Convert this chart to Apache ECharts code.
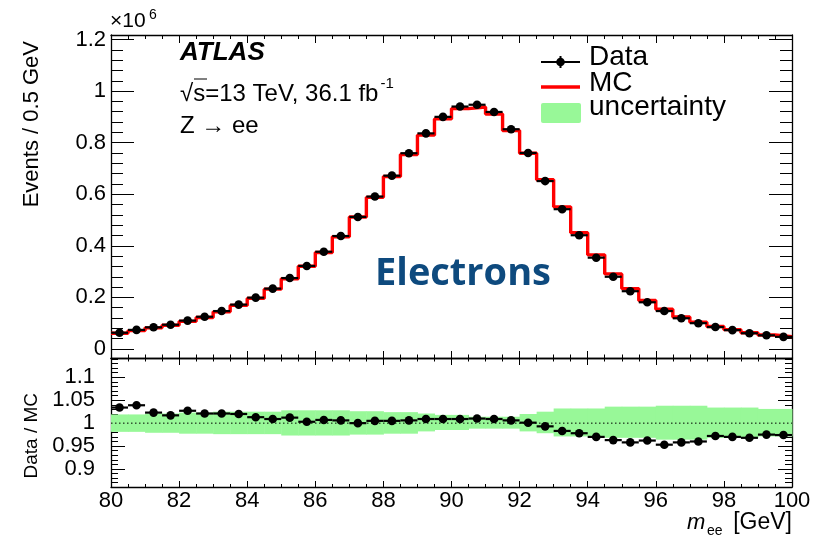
<!DOCTYPE html>
<html>
<head>
<meta charset="utf-8">
<script src="https://cdn.jsdelivr.net/npm/echarts@6/dist/echarts.min.js"></script>
<style>
html,body{margin:0;padding:0;background:#fff;}
#chart{width:818px;height:540px;}
</style>
</head>
<body>
<div id="chart"></div>
<script>
// ---------------- DATA ----------------
const binEdges = [80,80.5,81,81.5,82,82.5,83,83.5,84,84.5,85,85.5,86,86.5,87,87.5,88,88.5,89,89.5,
  90,90.5,91,91.5,92,92.5,93,93.5,94,94.5,95,95.5,96,96.5,97,97.5,98,98.5,99,99.5,100];
// Events (x10^6) per 0.5 GeV
const dataEvents = [0.063,0.074,0.084,0.094,0.110,0.125,0.147,0.172,0.199,0.234,
  0.275,0.322,0.377,0.438,0.512,0.591,0.672,0.759,0.836,0.900,
  0.940,0.947,0.919,0.852,0.760,0.651,0.542,0.441,0.354,0.280,
  0.224,0.181,0.147,0.119,0.100,0.085,0.073,0.061,0.053,0.047];
const mcEvents = [0.061,0.071,0.082,0.092,0.107,0.122,0.144,0.169,0.196,0.232,
  0.272,0.321,0.374,0.435,0.512,0.588,0.669,0.754,0.829,0.892,
  0.932,0.938,0.911,0.847,0.759,0.656,0.551,0.451,0.365,0.291,
  0.234,0.188,0.154,0.124,0.104,0.087,0.075,0.063,0.054,0.048];
const ratioValues = [1.034,1.039,1.023,1.017,1.027,1.021,1.021,1.020,1.013,1.009,
  1.012,1.003,1.007,1.006,1.000,1.005,1.005,1.006,1.009,1.009,
  1.009,1.010,1.009,1.006,1.001,0.993,0.983,0.978,0.970,0.963,
  0.958,0.962,0.953,0.958,0.960,0.972,0.970,0.968,0.975,0.974];
const uncLow = [0.981,0.981,0.979,0.979,0.977,0.977,0.976,0.976,0.976,0.976,
  0.973,0.973,0.973,0.973,0.975,0.975,0.977,0.977,0.982,0.985,
  0.985,0.988,0.988,0.988,0.982,0.978,0.971,0.971,0.971,0.968,
  0.968,0.968,0.964,0.964,0.964,0.968,0.968,0.968,0.971,0.971];
const uncHigh = [1.019,1.019,1.021,1.021,1.023,1.023,1.025,1.025,1.025,1.025,
  1.028,1.028,1.028,1.028,1.026,1.026,1.024,1.024,1.021,1.018,
  1.018,1.014,1.014,1.014,1.020,1.025,1.032,1.032,1.032,1.036,
  1.036,1.036,1.038,1.038,1.038,1.034,1.034,1.034,1.031,1.031];
const yTicksUpper = [0,0.2,0.4,0.6,0.8,1,1.2];
const yTicksUpperMinor = [0.04,0.08,0.12,0.16,0.24,0.28,0.32,0.36,0.44,0.48,0.52,0.56,0.64,0.68,0.72,0.76,
  0.84,0.88,0.92,0.96,1.04,1.08,1.12,1.16];
const yTicksLower = [0.9,0.95,1,1.05,1.1];
const yTicksLowerMinor = [0.87,0.88,0.89,0.91,0.92,0.93,0.94,0.96,0.97,0.98,0.99,1.01,1.02,1.03,1.04,
  1.06,1.07,1.08,1.09,1.11,1.12,1.13,1.14];

// ---------------- BUILD ----------------
const FONT = '"Liberation Sans", Arial, Helvetica, sans-serif';
const nb = dataEvents.length;
const mcLine = [];
const dataPts = [], ratioPts = [], bandPts = [];
for (let i = 0; i < nb; i++) {
  mcLine.push([binEdges[i], mcEvents[i]]);
  dataPts.push([binEdges[i], binEdges[i+1], dataEvents[i]]);
  ratioPts.push([binEdges[i], binEdges[i+1], ratioValues[i]]);
  bandPts.push([binEdges[i], binEdges[i+1], uncLow[i], uncHigh[i]]);
}
mcLine.push([binEdges[nb], mcEvents[nb-1]]);

const U_MIN = -0.035, U_MAX = 1.2174, L_MIN = 0.8607, L_MAX = 1.1421;

function pointRender(params, api) {
  const lo = api.coord([api.value(0), api.value(2)]);
  const hi = api.coord([api.value(1), api.value(2)]);
  const c = api.coord([(api.value(0) + api.value(1)) / 2, api.value(2)]);
  return {type: 'group', children: [
    {type: 'line', shape: {x1: lo[0], y1: lo[1], x2: hi[0], y2: hi[1]}, style: {stroke: '#000', lineWidth: 2.2}},
    {type: 'circle', shape: {cx: c[0], cy: c[1], r: 4.3}, style: {fill: '#000'}}
  ]};
}
function bandRender(params, api) {
  const a = api.coord([api.value(0), api.value(3)]);
  const b = api.coord([api.value(1), api.value(2)]);
  return {type: 'rect', shape: {x: a[0], y: a[1], width: b[0] - a[0] + 0.5, height: b[1] - a[1]},
    style: {fill: '#98f898'}};
}

function xAx(grid, pos, len, show) {
  return {type: 'value', gridIndex: grid, position: pos, min: 80, max: 100, interval: 2,
    axisLine: {show: true, onZero: false, lineStyle: {color: '#000', width: 1.3}},
    axisTick: {show: true, inside: true, length: len, lineStyle: {color: '#000', width: 1}},
    minorTick: {show: true, splitNumber: 4, length: len / 2, lineStyle: {color: '#000', width: 1}},
    splitLine: {show: false}, minorSplitLine: {show: false},
    axisLabel: show ? {show: true, fontSize: 22, fontFamily: FONT, color: '#000', margin: 3,
      showMinLabel: true, showMaxLabel: true} : {show: false}};
}
function yAx(grid, pos, min, max, ticks, len, lineShow, labelShow, margin) {
  return {type: 'value', gridIndex: grid, position: pos, min: min, max: max,
    axisLine: {show: lineShow, onZero: false, lineStyle: {color: '#000', width: 1.3}},
    axisTick: {show: true, inside: true, length: len, customValues: ticks, lineStyle: {color: '#000', width: 1}},
    splitLine: {show: false},
    axisLabel: labelShow ? {show: true, customValues: ticks, fontSize: 22, fontFamily: FONT, color: '#000',
      margin: margin, formatter: v => String(v)} : {show: false}};
}

const option = {
  animation: false,
  backgroundColor: '#fff',
  grid: [
    {left: 111, right: 26, top: 35, height: 323},
    {left: 111, right: 26, top: 358, height: 129}
  ],
  xAxis: [
    xAx(0, 'bottom', 7, false),
    xAx(0, 'top', 8, false),
    xAx(1, 'top', 7, false),
    xAx(1, 'bottom', 6, true)
  ],
  yAxis: [
    yAx(0, 'left', U_MIN, U_MAX, yTicksUpper, 23, true, true, 5),
    yAx(0, 'left', U_MIN, U_MAX, yTicksUpperMinor, 12, false, false, 0),
    yAx(0, 'right', U_MIN, U_MAX, yTicksUpper, 23, true, false, 0),
    yAx(0, 'right', U_MIN, U_MAX, yTicksUpperMinor, 12, false, false, 0),
    yAx(1, 'left', L_MIN, L_MAX, yTicksLower, 14, true, true, 16),
    yAx(1, 'left', L_MIN, L_MAX, yTicksLowerMinor, 7, false, false, 0),
    yAx(1, 'right', L_MIN, L_MAX, yTicksLower, 14, true, false, 0),
    yAx(1, 'right', L_MIN, L_MAX, yTicksLowerMinor, 7, false, false, 0)
  ],
  series: [
    {name: 'MC', type: 'line', xAxisIndex: 0, yAxisIndex: 0, step: 'end', data: mcLine,
      symbol: 'none', lineStyle: {color: '#ff0000', width: 3.4}, z: 3},
    {name: 'Data', type: 'custom', xAxisIndex: 0, yAxisIndex: 0, data: dataPts,
      encode: {x: [0, 1], y: 2}, renderItem: pointRender, z: 5},
    {name: 'uncertainty', type: 'custom', xAxisIndex: 3, yAxisIndex: 4, data: bandPts,
      encode: {x: [0, 1], y: [2, 3]}, renderItem: bandRender, z: 1},
    {name: 'unity', type: 'line', xAxisIndex: 3, yAxisIndex: 4, data: [[80, 1], [100, 1]],
      symbol: 'none', lineStyle: {color: '#000', width: 1, type: [1.5, 2.5]}, z: 2},
    {name: 'Ratio', type: 'custom', xAxisIndex: 3, yAxisIndex: 4, data: ratioPts,
      encode: {x: [0, 1], y: 2}, renderItem: pointRender, z: 5}
  ],
  graphic: [
    // x10^6
    {type: 'text', x: 110, y: 32, style: {text: '×10', font: '21px ' + FONT, fill: '#000', textVerticalAlign: 'bottom'}},
    {type: 'text', x: 149, y: 22, style: {text: '6', font: '14px ' + FONT, fill: '#000', textVerticalAlign: 'bottom'}},
    // ATLAS label
    {type: 'text', x: 180, y: 53, style: {text: 'ATLAS', font: 'italic bold 26px ' + FONT, fill: '#000', textVerticalAlign: 'middle'}},
    {type: 'text', x: 180, y: 91, style: {
      text: '{n|√s=13 TeV, 36.1 fb}{sup|-1}', textVerticalAlign: 'middle',
      rich: {n: {font: '24px ' + FONT, fill: '#000', verticalAlign: 'bottom', lineHeight: 30},
             sup: {font: '15px ' + FONT, fill: '#000', verticalAlign: 'top', lineHeight: 30, padding: [0, 0, 0, 2]}}}},
    {type: 'line', shape: {x1: 194, y1: 79, x2: 207, y2: 79}, style: {stroke: '#000', lineWidth: 1}},
    {type: 'text', x: 180, y: 126, style: {text: 'Z → ee', font: '24px ' + FONT, fill: '#000', textVerticalAlign: 'middle'}},
    // Electrons
    {type: 'text', x: 375, y: 274, style: {text: 'Electrons', font: 'bold 38px "Open Sans", "Noto Sans", sans-serif', fill: '#0e4a7e', textVerticalAlign: 'middle'}},
    // legend
    {type: 'line', shape: {x1: 541, y1: 62, x2: 580, y2: 62}, style: {stroke: '#000', lineWidth: 2}},
    {type: 'line', shape: {x1: 560.5, y1: 56, x2: 560.5, y2: 68}, style: {stroke: '#000', lineWidth: 2}},
    {type: 'circle', shape: {cx: 560.5, cy: 62, r: 4.3}, style: {fill: '#000'}},
    {type: 'text', x: 589, y: 57, style: {text: 'Data', font: '28px ' + FONT, fill: '#000', textVerticalAlign: 'middle'}},
    {type: 'line', shape: {x1: 541, y1: 87, x2: 580, y2: 87}, style: {stroke: '#ff0000', lineWidth: 3.4}},
    {type: 'text', x: 589, y: 83, style: {text: 'MC', font: '28px ' + FONT, fill: '#000', textVerticalAlign: 'middle'}},
    {type: 'rect', shape: {x: 541, y: 103, width: 40, height: 20, r: 2}, style: {fill: '#98f898'}},
    {type: 'text', x: 589, y: 107, style: {text: 'uncertainty', font: '28px ' + FONT, fill: '#000', textVerticalAlign: 'middle'}},
    // axis titles
    {type: 'text', x: 32, y: 41, rotation: Math.PI / 2,
      style: {text: 'Events / 0.5 GeV', font: '22px ' + FONT, fill: '#000', textAlign: 'right', textVerticalAlign: 'middle'}},
    {type: 'text', x: 32, y: 393, rotation: Math.PI / 2,
      style: {text: 'Data / MC', font: '19px ' + FONT, fill: '#000', textAlign: 'right', textVerticalAlign: 'middle'}},
    {type: 'text', x: 687, y: 523, style: {text: 'm', font: 'italic 22px ' + FONT, fill: '#000', textVerticalAlign: 'middle'}},
    {type: 'text', x: 707, y: 531, style: {text: 'ee', font: '14px ' + FONT, fill: '#000', textVerticalAlign: 'middle'}},
    {type: 'text', x: 792, y: 523, style: {text: '[GeV]', font: '23px ' + FONT, fill: '#000', textAlign: 'right', textVerticalAlign: 'middle'}}
  ]
};
const chart = echarts.init(document.getElementById('chart'), null, {renderer: 'canvas'});
chart.setOption(option);
</script>
</body>
</html>
